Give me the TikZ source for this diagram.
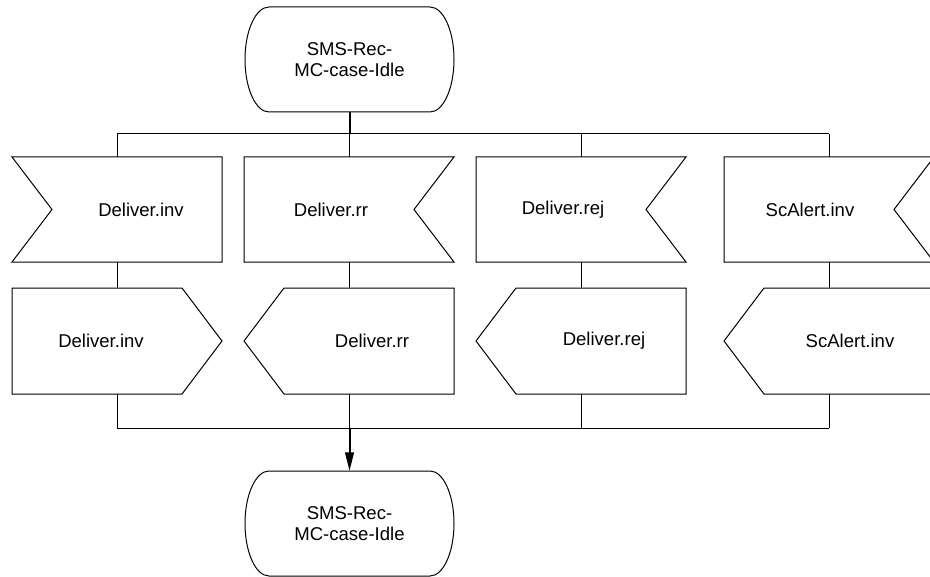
\documentclass[tikz,border=0pt]{standalone}
\usepackage{fontspec}
\setmainfont{Liberation Sans}
\usepackage{tikz}
\usetikzlibrary{calc}
\usetikzlibrary{arrows.meta}

\begin{document}
\begin{tikzpicture}[x=0.75pt,y=0.75pt,
  sym/.style={draw=black, line width=0.75pt, line join=miter},
  wire/.style={draw=black, line width=0.75pt},
  mainwire/.style={draw=black, line width=1.5pt},
  txt/.style={font=\fontsize{13.9pt}{16.2pt}\selectfont, align=center, inner sep=0pt}]
\useasboundingbox (0,0) rectangle (930,-577);

\coordinate (SA) at (349.5,-112); \coordinate (SB) at (349.5,-471);
\coordinate (BusL) at (117,-134); \coordinate (BusM) at (349.5,-134); \coordinate (BusR) at (829,-134);
\coordinate (JoinL) at (117,-428); \coordinate (JoinM) at (349.5,-428); \coordinate (JoinR) at (829,-428);

\coordinate (I1n) at (117,-157);   \coordinate (I1s) at (117,-262);
\coordinate (I2n) at (349.5,-157); \coordinate (I2s) at (349.5,-262);
\coordinate (I3n) at (581,-157);   \coordinate (I3s) at (581,-262);
\coordinate (I4n) at (829,-157);   \coordinate (I4s) at (829,-262);
\coordinate (O1n) at (117,-288);   \coordinate (O1s) at (117,-394);
\coordinate (O2n) at (349.5,-288); \coordinate (O2s) at (349.5,-394);
\coordinate (O3n) at (581,-288);   \coordinate (O3s) at (581,-394);
\coordinate (O4n) at (829,-288);   \coordinate (O4s) at (829,-394);

\draw [sym] (269,-7) -- (430,-7) arc[start angle=90,end angle=-90,x radius=24,y radius=52.5]
  -- (269,-112) arc[start angle=270,end angle=90,x radius=24,y radius=52.5] -- cycle;
\node [txt] (Idle1) at (349.5,-59.5) {SMS-Rec-\\MC-case-Idle};

\draw [sym] (12,-157) -- (222,-157) -- (222,-262) -- (12,-262) -- (52,-209.5) -- cycle;
\draw [sym] (244,-157) -- (454,-157) -- (414,-209.5) -- (454,-262) -- (244,-262) -- cycle;
\draw [sym] (476,-157) -- (686,-157) -- (646,-209.5) -- (686,-262) -- (476,-262) -- cycle;
\draw [sym] (724,-157) -- (934,-157) -- (894,-209.5) -- (934,-262) -- (724,-262) -- cycle;
\node [txt] (In1) at (141,-209.5) {Deliver.inv};
\node [txt] (In2) at (331,-209.5) {Deliver.rr};
\node [txt] (In3) at (563,-209.5) {Deliver.rej};
\node [txt] (In4) at (810,-209.5) {ScAlert.inv};

\draw [sym] (12,-288) -- (182,-288) -- (222,-341) -- (182,-394) -- (12,-394) -- cycle;
\draw [sym] (244,-341) -- (284,-288) -- (454,-288) -- (454,-394) -- (284,-394) -- cycle;
\draw [sym] (476,-341) -- (516,-288) -- (686,-288) -- (686,-394) -- (516,-394) -- cycle;
\draw [sym] (724,-341) -- (764,-288) -- (934,-288) -- (934,-394) -- (764,-394) -- cycle;
\node [txt] (Out1) at (101,-341) {Deliver.inv};
\node [txt] (Out2) at (372,-341) {Deliver.rr};
\node [txt] (Out3) at (604,-341) {Deliver.rej};
\node [txt] (Out4) at (850,-341) {ScAlert.inv};

\draw [sym] (269,-471) -- (430,-471) arc[start angle=90,end angle=-90,x radius=24,y radius=52.5]
  -- (269,-576) arc[start angle=270,end angle=90,x radius=24,y radius=52.5] -- cycle;
\node [txt] (Idle2) at (349.5,-523.5) {SMS-Rec-\\MC-case-Idle};

\draw [mainwire] (SA) -- (BusM);
\draw [wire] (BusL) -- (BusR);
\draw [wire] (BusL) -- (I1n); \draw [wire] (BusM) -- (I2n);
\draw [wire] (I3n |- BusL) -- (I3n); \draw [wire] (BusR) -- (I4n);
\draw [wire] (I1s) -- (O1n); \draw [wire] (I2s) -- (O2n);
\draw [wire] (I3s) -- (O3n); \draw [wire] (I4s) -- (O4n);
\draw [wire] (O1s) -- (JoinL); \draw [wire] (O2s) -- (JoinM);
\draw [wire] (O3s) -- (O3s |- JoinL); \draw [wire] (O4s) -- (JoinR);
\draw [wire] (JoinL) -- (JoinR);
\draw [mainwire, -{Triangle[length=14pt,width=6.5pt]}] (JoinM) -- (SB);

\end{tikzpicture}
\end{document}
